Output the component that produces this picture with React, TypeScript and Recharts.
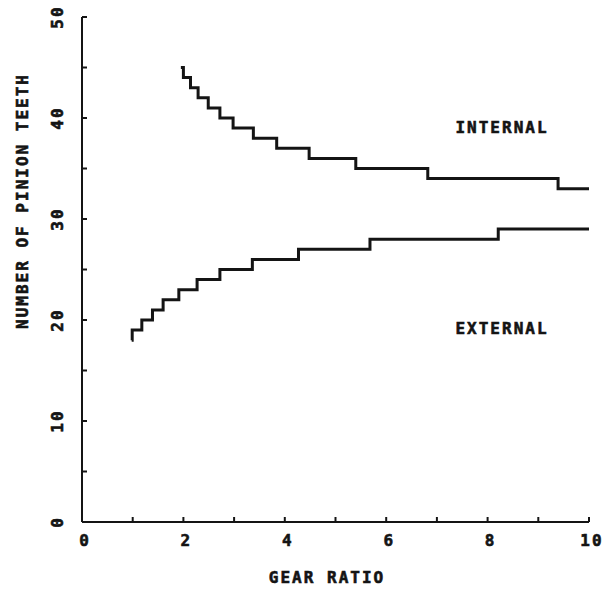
import { Customized, Line, LineChart, XAxis, YAxis } from "recharts";

// step points: ratio where each new tooth count begins
const internalRatio = [1.95, 2.0, 2.14, 2.29, 2.49, 2.72, 2.98, 3.38, 3.84, 4.48, 5.4, 6.82, 9.39, 10];
const internalTeeth = [45, 44, 43, 42, 41, 40, 39, 38, 37, 36, 35, 34, 33, 33];
const externalRatio = [0.98, 0.99, 1.18, 1.39, 1.6, 1.91, 2.27, 2.72, 3.36, 4.27, 5.68, 8.21, 10];
const externalTeeth = [18, 19, 20, 21, 22, 23, 24, 25, 26, 27, 28, 29, 29];

const xTicks = [0, 1, 2, 3, 4, 5, 6, 7, 8, 9, 10];
const xLabels = [0, 2, 4, 6, 8, 10];
const yTicks = [0, 5, 10, 15, 20, 25, 30, 35, 40, 45, 50];
const yLabels = [0, 10, 20, 30, 40, 50];

const internalData = internalRatio.map((ratio, i) => ({ ratio, teeth: internalTeeth[i] }));
const externalData = externalRatio.map((ratio, i) => ({ ratio, teeth: externalTeeth[i] }));

const INK = "#141414";
const font = {
  fontFamily: "'DejaVu Sans Mono', monospace",
  fontWeight: 700,
  fontSize: 16,
  letterSpacing: 2,
  fill: INK,
  stroke: INK,
  strokeWidth: 0.6,
};

function XTick({ x, y, payload }: any) {
  return (
    <g>
      <line x1={x} y1={y} x2={x} y2={y - 5} stroke={INK} strokeWidth={2} />
      {xLabels.includes(payload.value) && (
        <text x={x + 3} y={y + 24} textAnchor="middle" {...font}>
          {payload.value}
        </text>
      )}
    </g>
  );
}

function YTick({ x, y, payload }: any) {
  const lx = x - 25;
  return (
    <g>
      <line x1={x} y1={y} x2={x + 5} y2={y} stroke={INK} strokeWidth={2} />
      {yLabels.includes(payload.value) && (
        <text
          x={lx}
          y={y}
          textAnchor="middle"
          dominantBaseline="central"
          transform={`rotate(-90, ${lx}, ${y})`}
          {...font}
        >
          {payload.value}
        </text>
      )}
    </g>
  );
}

function Annotations() {
  return (
    <g>
      <text x={502} y={133} textAnchor="middle" {...font}>INTERNAL</text>
      <text x={502} y={334} textAnchor="middle" {...font}>EXTERNAL</text>
      <text x={327} y={583} textAnchor="middle" {...font}>GEAR RATIO</text>
      <text
        x={22}
        y={201}
        textAnchor="middle"
        dominantBaseline="central"
        transform="rotate(-90, 22, 201)"
        {...font}
      >
        NUMBER OF PINION TEETH
      </text>
    </g>
  );
}

export default function App() {
  return (
    <div style={{ position: "absolute", left: 0, top: 0, background: "#fff" }}>
      <LineChart
        width={604}
        height={595}
        margin={{ top: 17, right: 15, left: 0, bottom: 0 }}
      >
        <XAxis
          dataKey="ratio"
          type="number"
          domain={[0, 10]}
          ticks={xTicks}
          tickSize={0}
          tickMargin={0}
          tickLine={false}
          tick={(p: any) => <XTick {...p} />}
          axisLine={{ stroke: INK, strokeWidth: 2 }}
          height={73}
          allowDataOverflow
        />
        <YAxis
          type="number"
          domain={[0, 50]}
          ticks={yTicks}
          tickSize={0}
          tickMargin={0}
          tickLine={false}
          tick={(p: any) => <YTick {...p} />}
          axisLine={{ stroke: INK, strokeWidth: 2 }}
          width={82}
          allowDataOverflow
        />
        <Line
          data={internalData}
          dataKey="teeth"
          type="stepAfter"
          stroke={INK}
          strokeWidth={3}
          dot={false}
          isAnimationActive={false}
        />
        <Line
          data={externalData}
          dataKey="teeth"
          type="stepAfter"
          stroke={INK}
          strokeWidth={3}
          dot={false}
          isAnimationActive={false}
        />
        <Customized component={Annotations} />
      </LineChart>
    </div>
  );
}
